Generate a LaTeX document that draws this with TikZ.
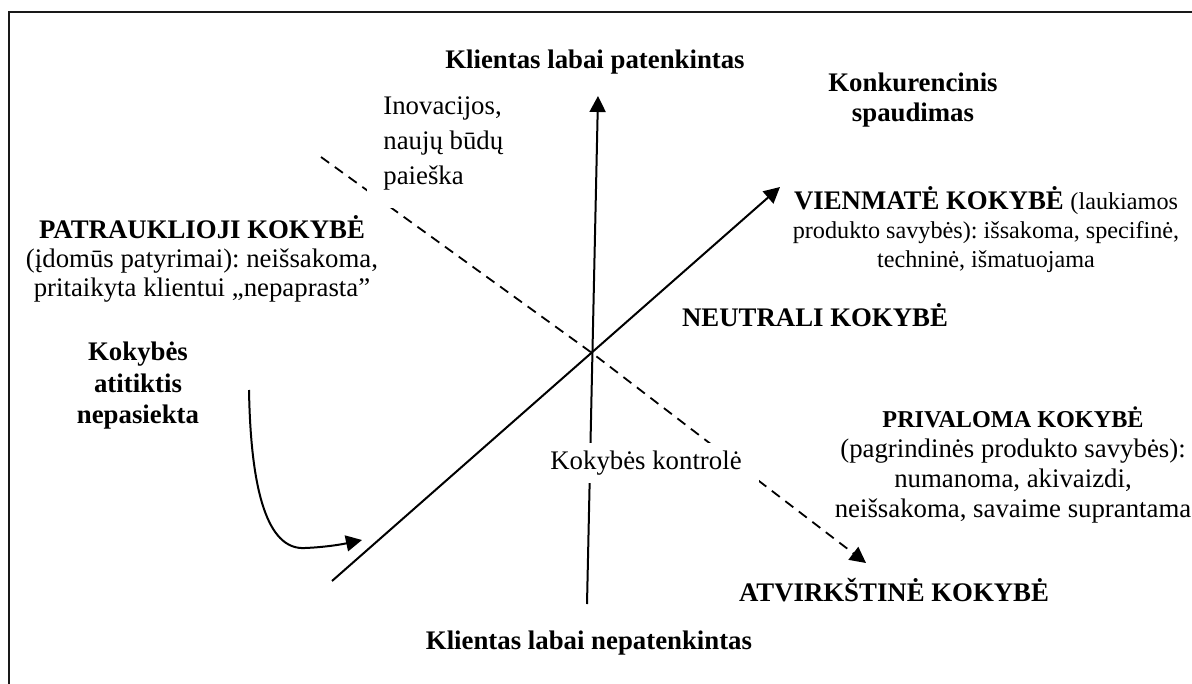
\documentclass[tikz,border=0pt]{standalone}
\usepackage{fontspec}
\setmainfont{Liberation Serif}
\usetikzlibrary{arrows.meta}
\frenchspacing
\newcommand{\smallbody}{\fontsize{12.1}{14.5}\selectfont}
\newcommand{\smallhead}{\fontsize{12.1}{15}\selectfont\bfseries}
\begin{document}
\begin{tikzpicture}[x=0.5pt,y=-0.5pt,
  lbl/.style={font=\fontsize{13.4}{#1}\selectfont, inner sep=0pt, align=center},
  lbl/.default=15,
  blbl/.style={font=\fontsize{13.4}{#1}\selectfont\bfseries, inner sep=0pt, align=center},
  blbl/.default=15,
  masked/.style={fill=white, inner xsep=8pt, inner ysep=9pt},
  tip/.style={-{Triangle[length=8pt,width=8pt]}},
  axis/.style={line width=1pt, tip},
  trend/.style={line width=0.9pt, dash pattern=on 5pt off 3.5pt, tip},
  frame/.style={line width=1.4pt, draw=black!90}
]
\useasboundingbox (0,0) rectangle (1192,684);
\clip (0,0) rectangle (1192,684);

% outer frame (runs past the right and lower edges)
\draw[frame] (9,12) rectangle (1240,720);

% anchor points of the axes
\coordinate (O)  at (592,353);
\coordinate (vb) at (587,604);
\coordinate (vt) at (598,96);
\coordinate (db) at (332,581);
\coordinate (dt) at (780,187);
\coordinate (ds) at (321,157);
\coordinate (de) at (866,563);
\coordinate (cs) at (249,390);
\coordinate (ce) at (362,540);

% axes
\draw[axis] (vb) -- (vt);
\draw[axis] (db) -- (dt);
\draw[trend] (ds) -- (O) -- (de);
\draw[axis] (cs) .. controls (251,505) and (272,550) .. (305,548)
                 .. controls (330,547) and (348,543) .. (ce);

% labels
\node[blbl] (top) at (595,62) {Klientas labai patenkintas};
\node[blbl] (bottom) at (589,643) {Klientas labai nepatenkintas};
\node[blbl] (konk) at (913,100) {Konkurencinis\\spaudimas};
\node[lbl=14.5] (vien) at (986,230)
  {\textbf{VIENMATĖ KOKYBĖ} {\smallbody(laukiamos}\\\smallbody produkto savybės): išsakoma, specifinė,\\\smallbody techninė, išmatuojama};
\node[blbl] (neut) at (815,315) {NEUTRALI KOKYBĖ};
\node[lbl] (priv) at (1013,465)
  {{\smallhead PRIVALOMA KOKYBĖ}\\(pagrindinės produkto savybės):\\numanoma, akivaizdi,\\neišsakoma, savaime suprantama};
\node[blbl] (atv) at (894,590) {ATVIRKŠTINĖ KOKYBĖ};
\node[lbl=14.5] (patr) at (202,259)
  {\textbf{PATRAUKLIOJI KOKYBĖ}\\(įdomūs patyrimai): neišsakoma,\\pritaikyta klientui „nepaprasta”};
\node[blbl=15.75] (atit) at (138,386) {Kokybės\\atitiktis\\nepasiekta};
\node[lbl=17.5, masked, align=left, anchor=west] (inov) at (367,143)
  {Inovacijos,\\naujų būdų\\paieška};
\node[lbl, masked, inner xsep=8.5pt, inner ysep=4pt] (kontr) at (646,463)
  {Kokybės kontrolė};
\end{tikzpicture}
\end{document}
